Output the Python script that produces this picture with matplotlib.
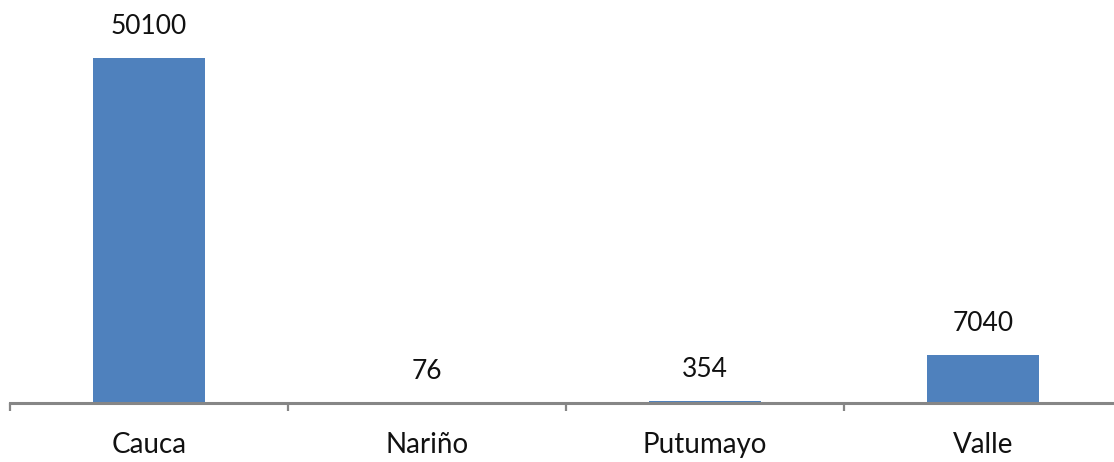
import numpy as np
import matplotlib.pyplot as plt

categories = ['Cauca', 'Nariño', 'Putumayo', 'Valle']
values = [50100, 76, 354, 7040]

W, H = 1114, 462
fig = plt.figure(figsize=(W / 100, H / 100), dpi=100)
# axis spans from x=10 to x=1122 px (cut off on the right), baseline at y=403 px
ax = fig.add_axes([10 / W, 1 - 403 / H, 1112 / W, 403 / H])

x = np.arange(len(categories))
bars = ax.bar(x, values, width=0.4, color='#4F81BD', zorder=1)
ax.set_xlim(-0.5, 3.5)
ax.set_ylim(0, 58500)

for xi, v in zip(x, values):
    ax.annotate(str(v), (xi, v), xytext=(0, 17), textcoords='offset points',
                ha='center', va='baseline', fontsize=19, family='Lato', color='#111111')

for s in ['top', 'right', 'left']:
    ax.spines[s].set_visible(False)
ax.spines['bottom'].set_color('#868686')
ax.spines['bottom'].set_linewidth(2.2)
ax.spines['bottom'].set_zorder(3)
ax.set_yticks([])
ax.set_xticks(x)
ax.set_xticklabels(categories, fontsize=20, family='Lato', color='#111111')
ax.tick_params(axis='x', which='major', length=0, pad=21)
ax.set_xticks(np.arange(-0.5, 4.0, 1.0), minor=True)
ax.tick_params(axis='x', which='minor', length=6, width=1.6, color='#868686')

fig.savefig('out.png', dpi=100)
